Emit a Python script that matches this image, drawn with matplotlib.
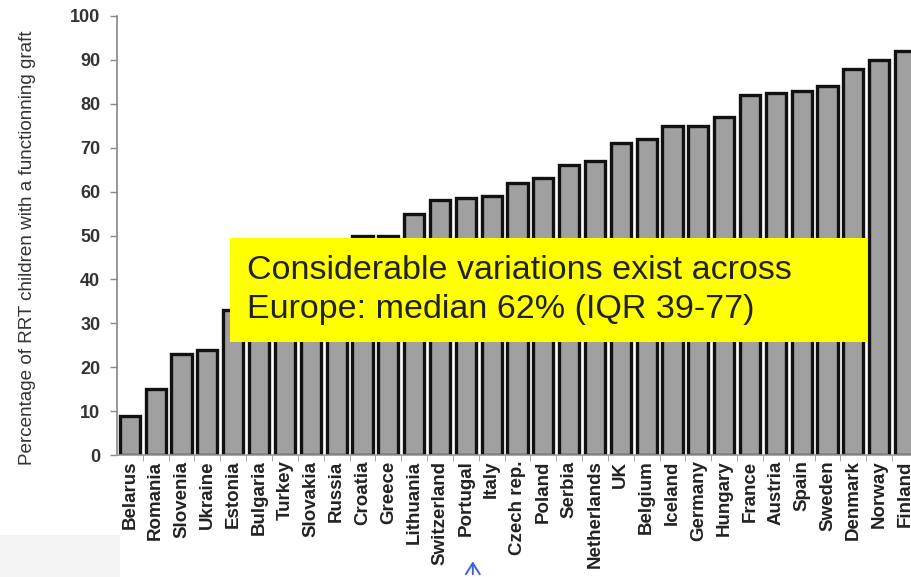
import numpy as np
import matplotlib.pyplot as plt
from matplotlib.patches import Rectangle, FancyArrowPatch

#-------------------------------------------------#
#--------------Data-------------------------------#
#-------------------------------------------------#

countries = ["Belarus", "Romania", "Slovenia", "Ukraine", "Estonia", "Bulgaria",
             "Turkey", "Slovakia", "Russia", "Croatia", "Greece", "Lithuania",
             "Switzerland", "Portugal", "Italy", "Czech rep.", "Poland", "Serbia",
             "Netherlands", "UK", "Belgium", "Iceland", "Germany", "Hungary",
             "France", "Austria", "Spain", "Sweden", "Denmark", "Norway", "Finland"]

# % of RRT children with a functioning graft (hidden bars estimated)
pct_graft = [9, 15, 23, 24, 33, 35, 37, 39, 45, 50, 50, 55,
             58, 58.5, 59, 62, 63, 66, 67, 71, 72, 75, 75, 77,
             82, 82.5, 83, 84, 88, 90, 92]

yticks = [0, 10, 20, 30, 40, 50, 60, 70, 80, 90, 100]

note = "Considerable variations exist across\nEurope: median 62% (IQR 39-77)"
ylab = "Percentage of RRT children with a functionning graft"

#-------------------------------------------------#
#---------------Plotting--------------------------#
#-------------------------------------------------#

plt.rcParams['font.family'] = ['Liberation Sans', 'DejaVu Sans']

fig = plt.figure(figsize=(9.11, 5.77), dpi=100)
ax = fig.add_axes([0.1284, 0.2114, 0.8793, 0.7609])

x = np.arange(len(countries))
ax.bar(x, pct_graft, width=0.78, color="#a0a0a0", edgecolor="#111111", linewidth=2.4)

ax.set_xlim(-0.5, len(countries) - 0.5)
ax.set_ylim(0, 100)
ax.set_yticks(yticks)
ax.set_yticklabels([str(t) for t in yticks], fontsize=13, fontweight="bold", color="#333333")
ax.set_xticks(x)
ax.set_xticklabels(countries, rotation=90, fontsize=13.5, fontweight="bold", color="#222222")
ax.set_xticks(x + 0.5, minor=True)
ax.tick_params(axis="x", which="major", length=0, pad=4)
ax.tick_params(axis="x", which="minor", length=4, color="#999999")
ax.tick_params(axis="y", length=5, color="#888888", width=1, pad=7)

for s in ["top", "right"]:
    ax.spines[s].set_visible(False)
ax.spines["left"].set_color("#888888")
ax.spines["bottom"].set_color("#999999")
ax.spines["left"].set_linewidth(1.2)
ax.spines["bottom"].set_linewidth(1.2)

fig.text(0.030, 0.570, ylab, rotation=90, ha="center", va="center",
         fontsize=13.6, color="#333333")

# yellow call-out box
fig.patches.append(Rectangle((0.2525, 0.4073), 0.6992, 0.1802, transform=fig.transFigure,
                             facecolor="#ffff00", edgecolor="none", zorder=5))
fig.text(0.271, 0.4975, note, ha="left", va="center", fontsize=24.5,
         color="#222222", linespacing=1.3, zorder=6)

# faint grey patch bottom-left and blue arrow under Portugal
fig.patches.append(Rectangle((0, 0), 0.132, 0.072, transform=fig.transFigure,
                             facecolor="#f4f4f4", edgecolor="none", zorder=0))
fig.patches.append(FancyArrowPatch(
    (0.519, 0.0), (0.519, 0.032), transform=fig.transFigure,
    arrowstyle="->,head_width=5,head_length=8", color="#4060d0", lw=1.4))

plt.savefig("out.png", dpi=100)
